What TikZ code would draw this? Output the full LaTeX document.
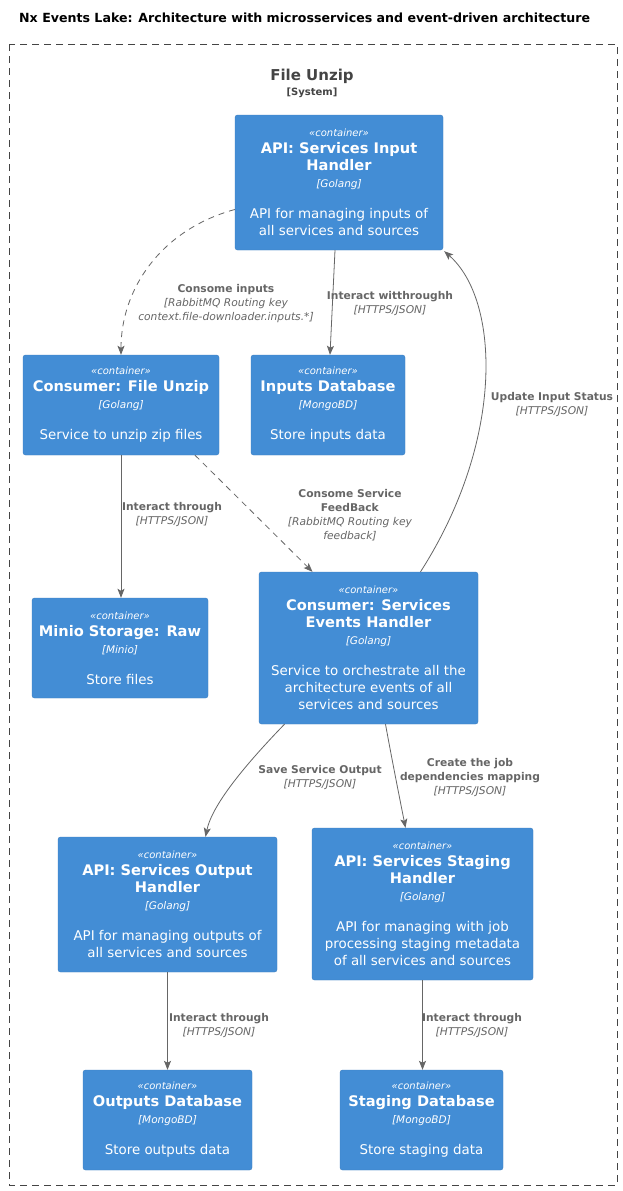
\documentclass[tikz,border=0pt]{standalone}
\usepackage{fontspec}
\setmainfont{DejaVu Sans}
\usetikzlibrary{arrows.meta,calc}
\definecolor{boxfill}{HTML}{438DD5}
\definecolor{boxline}{HTML}{3C7FC0}
\definecolor{lbl}{HTML}{666666}
\definecolor{bnd}{HTML}{444444}
\tikzset{
 ctr/.style={draw=boxline, fill=boxfill, rounded corners=2.5pt, text=white, align=center, inner sep=0pt, font=\fontsize{13.4}{17}\selectfont},
 conn/.style={draw=lbl, line width=0.8pt, -{Stealth[length=9pt,width=7pt,inset=2pt]}},
 dconn/.style={conn, dash pattern=on 6pt off 5pt},
 lab/.style={text=lbl, align=center, font=\fontsize{10.7}{14}\selectfont, inner sep=0pt},
}
\newcommand{\stereo}{{\fontsize{10}{12}\selectfont\itshape «container»}}
\newcommand{\ttl}[1]{{\fontsize{14.6}{18}\selectfont\bfseries #1}}
\newcommand{\tech}[1]{{\fontsize{10.5}{12}\selectfont\itshape [#1]}}
\newcommand{\lb}[1]{\textbf{#1}}
\newcommand{\lt}[1]{\textit{#1}}
\begin{document}
\begin{tikzpicture}[x=1pt,y=-1pt]
\useasboundingbox[fill=white] (0,0) rectangle (622,1191);
\node[anchor=west, font=\fontsize{12.6}{15}\selectfont\bfseries, inner sep=0pt] (title) at (19,18) {Nx Events Lake: Architecture with microsservices and event-driven architecture};
\draw[bnd, line width=0.8pt, dash pattern=on 7pt off 5pt] (9,44) rectangle (617,1185);
\node[text=bnd, font=\fontsize{15}{18}\selectfont\bfseries, inner sep=0pt] (sys) at (312,76) {File Unzip};
\node[text=bnd, font=\fontsize{10}{12}\selectfont\bfseries, inner sep=0pt] (syst) at (312,93) {[System]};

\node[ctr, minimum width=208pt, minimum height=135pt] (api) at (339,182.5) {\stereo\\ \ttl{API: Services Input}\\ \ttl{Handler}\\ \tech{Golang}\\[14pt] API for managing inputs of\\ all services and sources};
\node[ctr, minimum width=196pt, minimum height=100pt] (cfu) at (121,405) {\stereo\\ \ttl{Consumer: File Unzip}\\ \tech{Golang}\\[14pt] Service to unzip zip files};
\node[ctr, minimum width=154pt, minimum height=100pt] (idb) at (328,405) {\stereo\\ \ttl{Inputs Database}\\ \tech{MongoBD}\\[14pt] Store inputs data};
\node[ctr, minimum width=176pt, minimum height=100pt] (minio) at (120,648) {\stereo\\ \ttl{Minio Storage: Raw}\\ \tech{Minio}\\[14pt] Store files};
\node[ctr, minimum width=219pt, minimum height=152pt] (evt) at (368.5,648) {\stereo\\ \ttl{Consumer: Services}\\ \ttl{Events Handler}\\ \tech{Golang}\\[14pt] Service to orchestrate all the\\ architecture events of all\\ services and sources};
\node[ctr, minimum width=219pt, minimum height=135pt] (out) at (167.5,904.5) {\stereo\\ \ttl{API: Services Output}\\ \ttl{Handler}\\ \tech{Golang}\\[14pt] API for managing outputs of\\ all services and sources};
\node[ctr, minimum width=221pt, minimum height=152pt] (stg) at (422.5,904) {\stereo\\ \ttl{API: Services Staging}\\ \ttl{Handler}\\ \tech{Golang}\\[14pt] API for managing with job\\ processing staging metadata\\ of all services and sources};
\node[ctr, minimum width=169pt, minimum height=100pt] (odb) at (167.5,1120) {\stereo\\ \ttl{Outputs Database}\\ \tech{MongoBD}\\[14pt] Store outputs data};
\node[ctr, minimum width=163pt, minimum height=100pt] (sdb) at (421.5,1120) {\stereo\\ \ttl{Staging Database}\\ \tech{MongoBD}\\[14pt] Store staging data};

% connectors
\draw[dconn] ([yshift=-27pt]api.west) .. controls (160,230) and (121,290) .. (cfu.north);
\draw[conn] ([xshift=-4pt]api.south) -- ([xshift=2pt]idb.north);
\draw[conn] (cfu.south) -- ([xshift=1pt]minio.north);
\draw[dconn] ([xshift=74pt]cfu.south) -- ([xshift=-56pt]evt.north);
\draw[conn] ([xshift=52pt]evt.north) .. controls (505,440) and (500,300) .. ([xshift=1pt,yshift=-1pt]api.south east);
\draw[conn] ([xshift=-84pt]evt.south) .. controls (245,765) and (212,805) .. ([xshift=38pt]out.north);
\draw[conn] ([xshift=17pt]evt.south) .. controls (392,760) and (400,800) .. ([xshift=-17pt]stg.north);
\draw[conn] (out.south) -- (odb.north);
\draw[conn] (stg.south) -- ([xshift=1pt]sdb.north);

% labels
\node[lab] (l1) at (226,304) {\lb{Consome inputs}\\ \lt{[RabbitMQ Routing key}\\ \lt{context.file-downloader.inputs.*]}};
\node[lab] (l2) at (390,304) {\lb{Interact witthroughh}\\ \lt{[HTTPS/JSON]}};
\node[lab] (l3) at (172,514.5) {\lb{Interact through}\\ \lt{[HTTPS/JSON]}};
\node[lab] (l4) at (350,515) {\lb{Consome Service}\\ \lb{FeedBack}\\ \lt{[RabbitMQ Routing key}\\ \lt{feedback]}};
\node[lab] (l5) at (552,405) {\lb{Update Input Status}\\ \lt{[HTTPS/JSON]}};
\node[lab] (l6) at (320,777.5) {\lb{Save Service Output}\\ \lt{[HTTPS/JSON]}};
\node[lab] (l7) at (470,777) {\lb{Create the job}\\ \lb{dependencies mapping}\\ \lt{[HTTPS/JSON]}};
\node[lab] (l8) at (219,1025.5) {\lb{Interact through}\\ \lt{[HTTPS/JSON]}};
\node[lab] (l9) at (472,1025.5) {\lb{Interact through}\\ \lt{[HTTPS/JSON]}};
\end{tikzpicture}
\end{document}
